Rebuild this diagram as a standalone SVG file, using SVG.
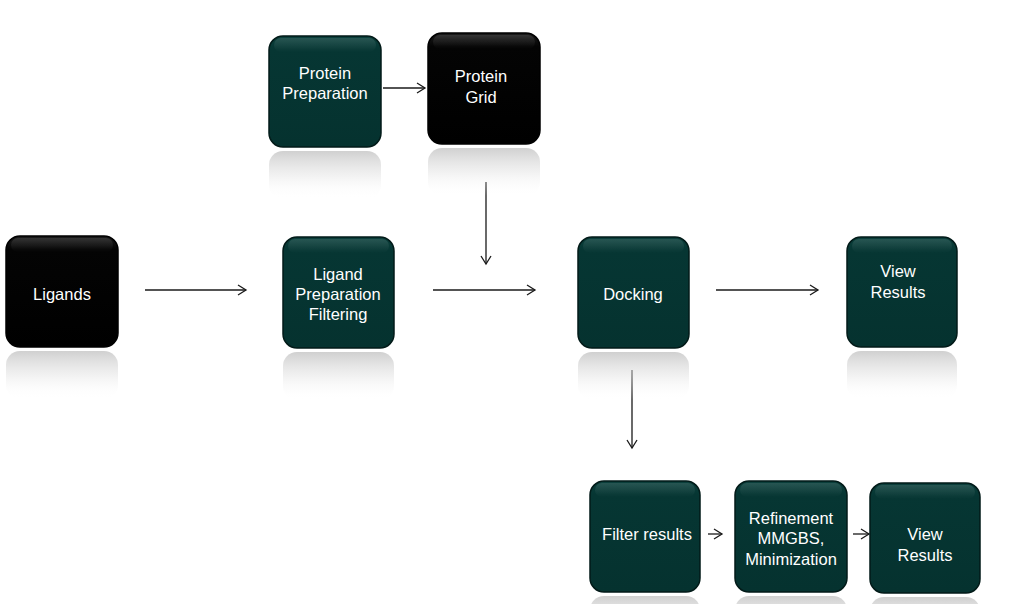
<svg xmlns="http://www.w3.org/2000/svg" width="1013" height="604" viewBox="0 0 1013 604">
<style>
.t{font-family:"Liberation Sans",Arial,sans-serif;font-size:16.5px;fill:#ffffff;text-anchor:middle}
.teal{fill:url(#gt);stroke:#021a18;stroke-width:1.5}
.blk{fill:url(#gb);stroke:#000;stroke-width:1.5}
.hl{fill:url(#gh)}
.refl{fill:url(#gr)}
.c{stroke:#1a1a1a;stroke-width:1.3;fill:none;marker-end:url(#ah)}
</style>
<defs>
<linearGradient id="gt" x1="0" y1="0" x2="0" y2="1">
<stop offset="0" stop-color="#0b403c"/>
<stop offset="0.12" stop-color="#063633"/>
<stop offset="1" stop-color="#05322f"/>
</linearGradient>
<linearGradient id="gb" x1="0" y1="0" x2="0" y2="1">
<stop offset="0" stop-color="#1c1c1c"/>
<stop offset="0.12" stop-color="#040404"/>
<stop offset="1" stop-color="#000000"/>
</linearGradient>
<linearGradient id="gh" x1="0" y1="0" x2="0" y2="1">
<stop offset="0" stop-color="#ffffff" stop-opacity="0.12"/>
<stop offset="1" stop-color="#ffffff" stop-opacity="0"/>
</linearGradient>
<linearGradient id="gr" x1="0" y1="0" x2="0" y2="1">
<stop offset="0" stop-color="#c4c4c4" stop-opacity="0.8"/>
<stop offset="0.5" stop-color="#e0e0e0" stop-opacity="0.45"/>
<stop offset="1" stop-color="#ffffff" stop-opacity="0"/>
</linearGradient>
<marker id="ah" markerWidth="12" markerHeight="12" refX="10" refY="6" orient="auto" markerUnits="userSpaceOnUse">
<path d="M2,1 L10,6 L2,11" fill="none" stroke="#1a1a1a" stroke-width="1.3"/>
</marker>
</defs>
<rect width="1013" height="604" fill="#ffffff"/>

<g id="connectors">
<line class="c" x1="383" y1="88" x2="425" y2="88"/>
<line class="c" x1="486" y1="182" x2="486" y2="264"/>
<line class="c" x1="145" y1="290" x2="246" y2="290"/>
<line class="c" x1="433" y1="290" x2="535" y2="290"/>
<line class="c" x1="716" y1="290" x2="818" y2="290"/>
<line class="c" x1="632" y1="370" x2="632" y2="448"/>
<line class="c" x1="708" y1="534" x2="722" y2="534"/>
<line class="c" x1="853" y1="534" x2="869" y2="534"/>
</g>

<g id="protein-preparation">
<rect class="refl" x="269" y="151" width="112" height="48" rx="14"/>
<rect class="teal" x="269" y="36" width="112" height="111" rx="14"/>
<rect class="hl" x="274" y="38" width="102" height="14" rx="7"/>
<text class="t" x="325" y="79">Protein</text>
<text class="t" x="325" y="99">Preparation</text>
</g>

<g id="protein-grid">
<rect class="refl" x="428" y="148" width="112" height="48" rx="14"/>
<rect class="blk" x="428" y="33" width="112" height="111" rx="14"/>
<rect class="hl" x="433" y="35" width="102" height="14" rx="7"/>
<text class="t" x="481" y="82">Protein</text>
<text class="t" x="481" y="103">Grid</text>
</g>

<g id="ligands">
<rect class="refl" x="6" y="351" width="112" height="48" rx="14"/>
<rect class="blk" x="6" y="236" width="112" height="111" rx="14"/>
<rect class="hl" x="11" y="238" width="102" height="14" rx="7"/>
<text class="t" x="62" y="300">Ligands</text>
</g>

<g id="ligand-preparation">
<rect class="refl" x="283" y="352" width="111" height="48" rx="14"/>
<rect class="teal" x="283" y="237" width="111" height="111" rx="14"/>
<rect class="hl" x="288" y="239" width="101" height="14" rx="7"/>
<text class="t" x="338" y="280">Ligand</text>
<text class="t" x="338" y="300">Preparation</text>
<text class="t" x="338" y="320">Filtering</text>
</g>

<g id="docking">
<rect class="refl" x="578" y="352" width="111" height="48" rx="14"/>
<rect class="teal" x="578" y="237" width="111" height="111" rx="14"/>
<rect class="hl" x="583" y="239" width="101" height="14" rx="7"/>
<text class="t" x="633" y="300">Docking</text>
</g>

<g id="view-results-top">
<rect class="refl" x="847" y="351" width="110" height="48" rx="14"/>
<rect class="teal" x="847" y="237" width="110" height="110" rx="14"/>
<rect class="hl" x="852" y="239" width="100" height="14" rx="7"/>
<text class="t" x="898" y="277">View</text>
<text class="t" x="898" y="298">Results</text>
</g>

<g id="filter-results">
<rect class="refl" x="590" y="596" width="110" height="48" rx="14"/>
<rect class="teal" x="590" y="481" width="110" height="111" rx="14"/>
<rect class="hl" x="595" y="483" width="100" height="14" rx="7"/>
<text class="t" x="647" y="540">Filter results</text>
</g>

<g id="refinement">
<rect class="refl" x="735" y="596" width="112" height="48" rx="14"/>
<rect class="teal" x="735" y="481" width="112" height="111" rx="14"/>
<rect class="hl" x="740" y="483" width="102" height="14" rx="7"/>
<text class="t" x="791" y="524">Refinement</text>
<text class="t" x="791" y="544">MMGBS,</text>
<text class="t" x="791" y="565">Minimization</text>
</g>

<g id="view-results-bottom">
<rect class="refl" x="870" y="597" width="110" height="48" rx="14"/>
<rect class="teal" x="870" y="483" width="110" height="110" rx="14"/>
<rect class="hl" x="875" y="485" width="100" height="14" rx="7"/>
<text class="t" x="925" y="540">View</text>
<text class="t" x="925" y="561">Results</text>
</g>
</svg>
